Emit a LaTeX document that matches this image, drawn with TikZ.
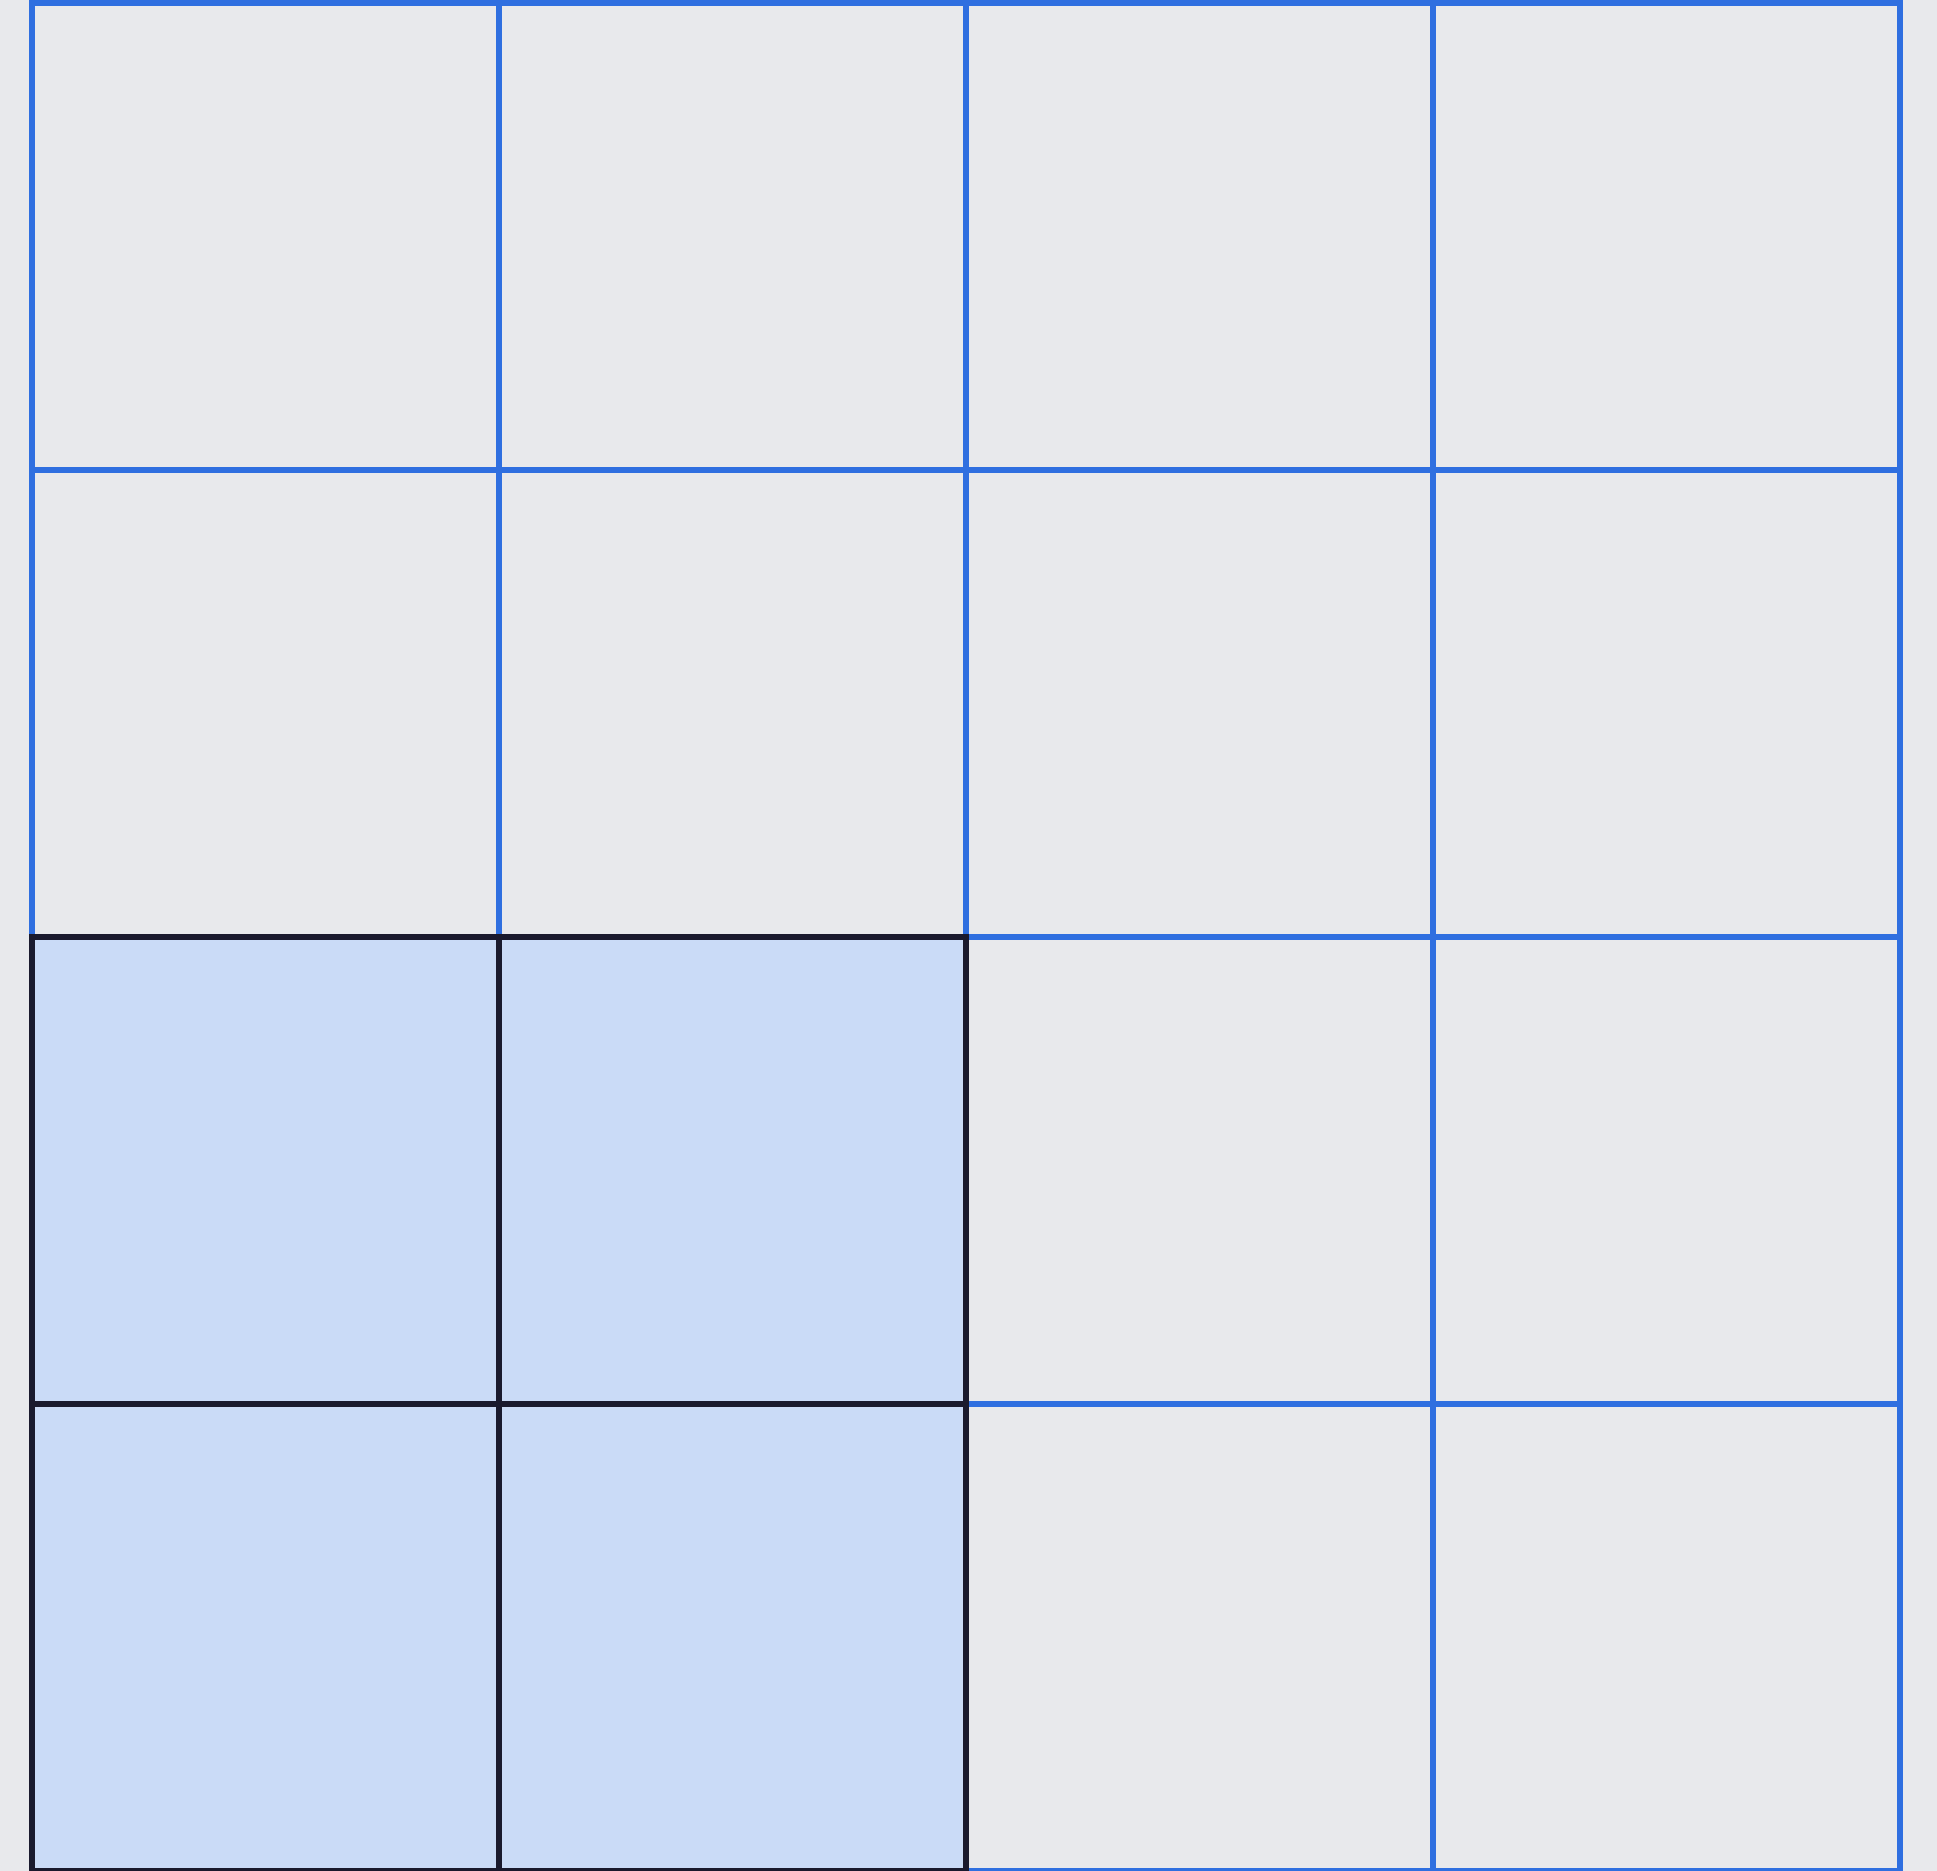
\documentclass[tikz,border=0pt]{standalone}
\usepackage{tikz}
\definecolor{canvas}{HTML}{E8E9EC}
\definecolor{gridline}{HTML}{2F6FE0}
\definecolor{pickfill}{HTML}{CADBF7}
\definecolor{pickline}{HTML}{1A1A2E}

\begin{document}
\begin{tikzpicture}[
  cell/.style={
    draw=gridline,
    fill=canvas,
    line width=1.6pt,
    minimum width=4.67cm,
    minimum height=4.67cm,
    inner sep=0pt,
    outer sep=0pt
  },
  picked/.style={
    cell,
    draw=pickline,
    fill=pickfill
  }
]

\useasboundingbox[fill=canvas] (0,0) rectangle (19.37,18.71);

% 4x4 grid, row 1 on top; the lower-left 2x2 block comes last so its edges stay dark
\foreach \r in {1,...,4}
  \foreach \c in {1,...,4}{
    \pgfmathtruncatemacro\inblock{and(\r>2,\c<3)}
    \ifnum\inblock=0
      \node[cell] (cell-\r-\c) at ({0.32+(\c-0.5)*4.67},{18.68-(\r-0.5)*4.67}) {};
    \fi
  }

\foreach \r in {3,4}
  \foreach \c in {1,2}
    \node[picked] (cell-\r-\c) at ({0.32+(\c-0.5)*4.67},{18.68-(\r-0.5)*4.67}) {};

\end{tikzpicture}
\end{document}
